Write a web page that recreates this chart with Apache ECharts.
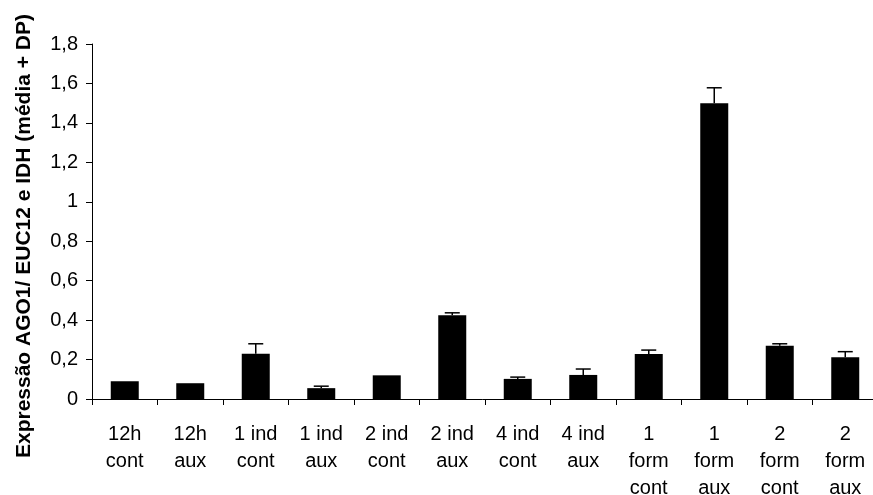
<!DOCTYPE html>
<html lang="pt">
<head>
    <meta charset="UTF-8">
    <title>Expressão AGO1</title>
    <script src="https://cdn.jsdelivr.net/npm/echarts@6.0.0/dist/echarts.min.js"></script>
    <style>
        html, body { margin: 0; padding: 0; background: #fff; }
        #chart { width: 873px; height: 495px; }
    </style>
</head>
<body>
    <div id="chart"></div>
    <script>
        // dados
        var categorias = ['12h\ncont', '12h\naux', '1 ind\ncont', '1 ind\naux', '2 ind\ncont', '2 ind\naux',
                          '4 ind\ncont', '4 ind\naux', '1\nform\ncont', '1\nform\naux', '2\nform\ncont', '2\nform\naux'];
        var medias = [0.09, 0.08, 0.23, 0.055, 0.12, 0.425, 0.102, 0.122, 0.228, 1.50, 0.27, 0.212];
        var desvios = [0, 0, 0.05, 0.01, 0, 0.012, 0.009, 0.03, 0.02, 0.078, 0.01, 0.028];
        var yTicks = [0, 0.2, 0.4, 0.6, 0.8, 1, 1.2, 1.4, 1.6, 1.8];

        var fonte = 'Liberation Sans, Arial, sans-serif';
        var erroData = medias.map(function (m, i) { return [i, m, m + desvios[i]]; });

        var chart = echarts.init(document.getElementById('chart'));
        chart.setOption({
            animation: false,
            backgroundColor: '#fff',
            grid: { left: 92, right: -5, top: 44, bottom: 96, outerBoundsMode: 'none', containLabel: false },
            graphic: [{
                type: 'text',
                x: 24, y: 236,
                rotation: Math.PI / 2,
                style: {
                    text: 'Expressão AGO1/ EUC12 e IDH (média + DP)',
                    font: 'bold 21px ' + fonte,
                    fill: '#000',
                    align: 'center',
                    verticalAlign: 'middle'
                }
            }],
            xAxis: {
                type: 'category',
                data: categorias,
                axisLine: { lineStyle: { color: '#000', width: 1 } },
                axisTick: { show: true, length: 6, lineStyle: { color: '#000' } },
                axisLabel: {
                    color: '#000', fontSize: 20, fontFamily: fonte,
                    lineHeight: 27, margin: 22, interval: 0, verticalAlign: 'top'
                }
            },
            yAxis: {
                type: 'value',
                min: 0, max: yTicks[yTicks.length - 1], interval: 0.2,
                splitLine: { show: false },
                axisLine: { show: true, lineStyle: { color: '#000', width: 1 } },
                axisTick: { show: true, length: 6, lineStyle: { color: '#000' } },
                axisLabel: {
                    color: '#000', fontSize: 20, fontFamily: fonte, margin: 14,
                    formatter: function (v) { return String(Math.round(v * 10) / 10).replace('.', ','); }
                }
            },
            series: [{
                type: 'bar',
                data: medias,
                barWidth: 28,
                itemStyle: { color: '#000' }
            }, {
                type: 'custom',
                data: erroData,
                z: 3,
                renderItem: function (params, api) {
                    var x = api.value(0);
                    var base = api.coord([x, api.value(1)]);
                    var top = api.coord([x, api.value(2)]);
                    var half = 7.5;
                    if (base[1] - top[1] < 0.5) return null;
                    return {
                        type: 'group',
                        children: [{
                            type: 'line',
                            shape: { x1: top[0], y1: base[1], x2: top[0], y2: top[1] },
                            style: { stroke: '#000', lineWidth: 1.5 }
                        }, {
                            type: 'line',
                            shape: { x1: top[0] - half, y1: top[1], x2: top[0] + half, y2: top[1] },
                            style: { stroke: '#000', lineWidth: 1.5 }
                        }]
                    };
                }
            }]
        });
    </script>
</body>
</html>
